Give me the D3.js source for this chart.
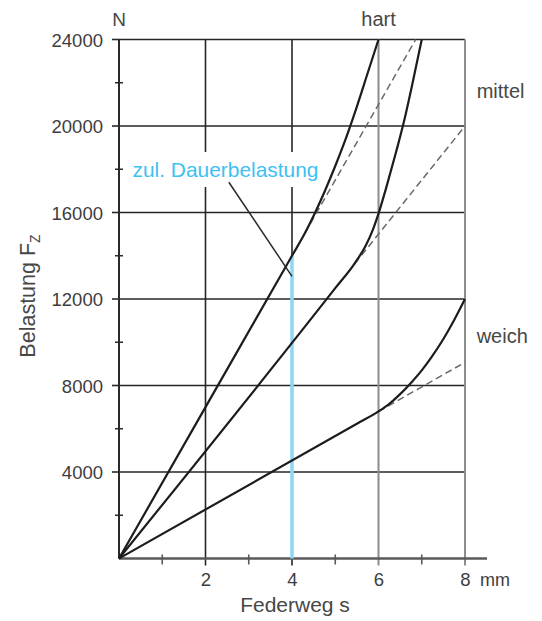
<!DOCTYPE html>
<html><head><meta charset="utf-8">
<script src="https://cdn.jsdelivr.net/npm/d3@7"></script>
<style>
html,body{margin:0;padding:0;background:#fff;}
svg{display:block;}
text{font-family:"Liberation Sans",Arial,sans-serif;}
</style></head>
<body>
<svg id="chart" width="542" height="621"></svg>
<script>
// ---- data ----
const xMajorTicks = [2, 4, 6, 8];
const xMinorTicks = [1, 3, 5, 7];
const yLabelTicks = [4000, 8000, 12000, 16000, 20000, 24000];
const yMinorTicks = [2000, 6000, 10000, 14000, 18000, 22000];

const weichSolid  = [[0,0],[5.5,6230],[6,6800],[6.25,7150],[6.5,7600],[6.75,8120],[7,8700],[7.25,9380],[7.5,10150],[7.75,11030],[8,12000]];
const weichDashed = [[6,6800],[8,9070]];
const mittelSolid = [[0,0],[5.0,12500],[5.45,13650],[5.7,14450],[5.85,15100],[6,15950],[6.2,17300],[6.4,18750],[6.6,20300],[6.8,22100],[7,24000]];
const mittelDashed = [[5.45,13625],[8,20000]];
const hartSolid   = [[0,0],[4.0,14000],[4.3,15050],[4.5,15850],[4.75,16950],[5,18150],[5.25,19450],[5.5,20900],[5.75,22450],[6,24000]];
const hartDashed  = [[4.3,15050],[6.86,24000]];

const dauerValue = [4, 14000];          // zul. Dauerbelastung line (x, top)
const leaderLine = [[2.54,17400],[4.0,13050]];

const seriesLabels = [
  {text:"hart",   x:6,    y:25.5, anchor:"middle"},
  {text:"mittel", x:8.27, y:98,   anchor:"start"},
  {text:"weich",  x:8.27, y:343,  anchor:"start"}
];

// ---- scales ----
const x = d3.scaleLinear().domain([0, 8]).range([119, 465]);
const y = d3.scaleLinear().domain([0, 24000]).range([558.5, 39.5]);

const svg = d3.select("#chart");

// horizontal grid
svg.append("g").selectAll("line").data(yLabelTicks).join("line")
  .attr("x1", x(0)).attr("x2", x(8))
  .attr("y1", d => y(d)).attr("y2", d => y(d))
  .attr("stroke", "#262626").attr("stroke-width", 1.6);

// vertical grid
svg.append("g").selectAll("line").data(xMajorTicks).join("line")
  .attr("x1", d => x(d)).attr("x2", d => x(d))
  .attr("y1", y(24000)).attr("y2", y(0) + 7)
  .attr("stroke", d => d >= 6 ? "#8c8c8c" : "#262626")
  .attr("stroke-width", d => d >= 6 ? 2 : 1.6);

// white knock-out behind label
svg.append("rect").attr("x", 127).attr("y", 152).attr("width", 196).attr("height", 35).attr("fill", "#fff");

// x axis line and minor ticks
svg.append("line").attr("x1", x(0)).attr("x2", x(8) + 22)
  .attr("y1", y(0)).attr("y2", y(0))
  .attr("stroke", "#5a5a5a").attr("stroke-width", 2.4);
svg.append("g").selectAll("line").data(xMinorTicks).join("line")
  .attr("x1", d => x(d)).attr("x2", d => x(d))
  .attr("y1", y(0) - 4).attr("y2", y(0) + 6)
  .attr("stroke", "#5a5a5a").attr("stroke-width", 1.6);

// y axis line
svg.append("line").attr("x1", x(0)).attr("x2", x(0))
  .attr("y1", y(0)).attr("y2", y(24000))
  .attr("stroke", "#2a2a2a").attr("stroke-width", 2);
svg.append("g").selectAll("line").data(yMinorTicks).join("line")
  .attr("x1", x(0) - 4).attr("x2", x(0) + 4)
  .attr("y1", d => y(d)).attr("y2", d => y(d))
  .attr("stroke", "#2a2a2a").attr("stroke-width", 1.5);
svg.append("g").selectAll("line").data(yLabelTicks).join("line")
  .attr("x1", x(0) - 7).attr("x2", x(0))
  .attr("y1", d => y(d)).attr("y2", d => y(d))
  .attr("stroke", "#2a2a2a").attr("stroke-width", 1.6);

// y tick labels via axis
const yAxis = d3.axisLeft(y).tickValues(yLabelTicks).tickSize(0).tickPadding(16)
  .tickFormat(d => String(d));
const yg = svg.append("g").attr("transform", `translate(${x(0)},0)`).call(yAxis);
yg.select(".domain").remove();
yg.selectAll("text").attr("font-size", 18.5).attr("fill", "#3d3d3d")
  .attr("font-family", '"Liberation Sans",Arial,sans-serif').attr("dy", "0.36em");

// x tick labels via axis
const xAxis = d3.axisBottom(x).tickValues(xMajorTicks).tickSize(0).tickPadding(14)
  .tickFormat(d => String(d));
const xg = svg.append("g").attr("transform", `translate(0,${y(0)})`).call(xAxis);
xg.select(".domain").remove();
xg.selectAll("text").attr("font-size", 18.5).attr("fill", "#3d3d3d")
  .attr("font-family", '"Liberation Sans",Arial,sans-serif');

svg.append("text").attr("x", x(8) + 15).attr("y", 585.5).attr("font-size", 18)
  .attr("fill", "#3d3d3d").text("mm");

// blue line
svg.append("line").attr("x1", x(dauerValue[0])).attr("x2", x(dauerValue[0]))
  .attr("y1", y(0)).attr("y2", y(dauerValue[1]))
  .attr("stroke", "#8dd6f4").attr("stroke-width", 3.5);

// dashed lines
const line = d3.line().x(d => x(d[0])).y(d => y(d[1]));
[weichDashed, mittelDashed, hartDashed].forEach(s => {
  svg.append("path").attr("d", line(s)).attr("fill", "none")
    .attr("stroke", "#6a6a6a").attr("stroke-width", 1.5).attr("stroke-dasharray", "7,4");
});

// curves
const curve = d3.line().x(d => x(d[0])).y(d => y(d[1])).curve(d3.curveMonotoneX);
[weichSolid, mittelSolid, hartSolid].forEach(s => {
  svg.append("path").attr("d", curve(s)).attr("fill", "none")
    .attr("stroke", "#1c1c1c").attr("stroke-width", 2.2);
});

// leader line
svg.append("path").attr("d", line(leaderLine)).attr("fill", "none")
  .attr("stroke", "#2a2a2a").attr("stroke-width", 1.5);

// label
svg.append("text").attr("x", 132.5).attr("y", 176.5).attr("font-size", 20.8)
  .attr("fill", "#3ec0f2").attr("textLength", 186).attr("lengthAdjust", "spacingAndGlyphs")
  .text("zul. Dauerbelastung");

// series labels
svg.append("g").selectAll("text").data(seriesLabels).join("text")
  .attr("x", d => x(d.x)).attr("y", d => d.y).attr("text-anchor", d => d.anchor)
  .attr("font-size", 20).attr("fill", "#474747").text(d => d.text);

// unit N
svg.append("text").attr("x", x(0)).attr("y", 25.5).attr("text-anchor", "middle")
  .attr("font-size", 19).attr("fill", "#474747").text("N");

// axis titles
svg.append("text").attr("x", 295).attr("y", 612).attr("text-anchor", "middle")
  .attr("font-size", 21).attr("fill", "#474747").text("Federweg s");

const yt = svg.append("text").attr("transform", "translate(35,296) rotate(-90)")
  .attr("text-anchor", "middle").attr("font-size", 21.5).attr("fill", "#474747");
yt.append("tspan").text("Belastung F");
yt.append("tspan").attr("font-size", 14).attr("dy", 5).text("Z");
</script>
</body></html>
